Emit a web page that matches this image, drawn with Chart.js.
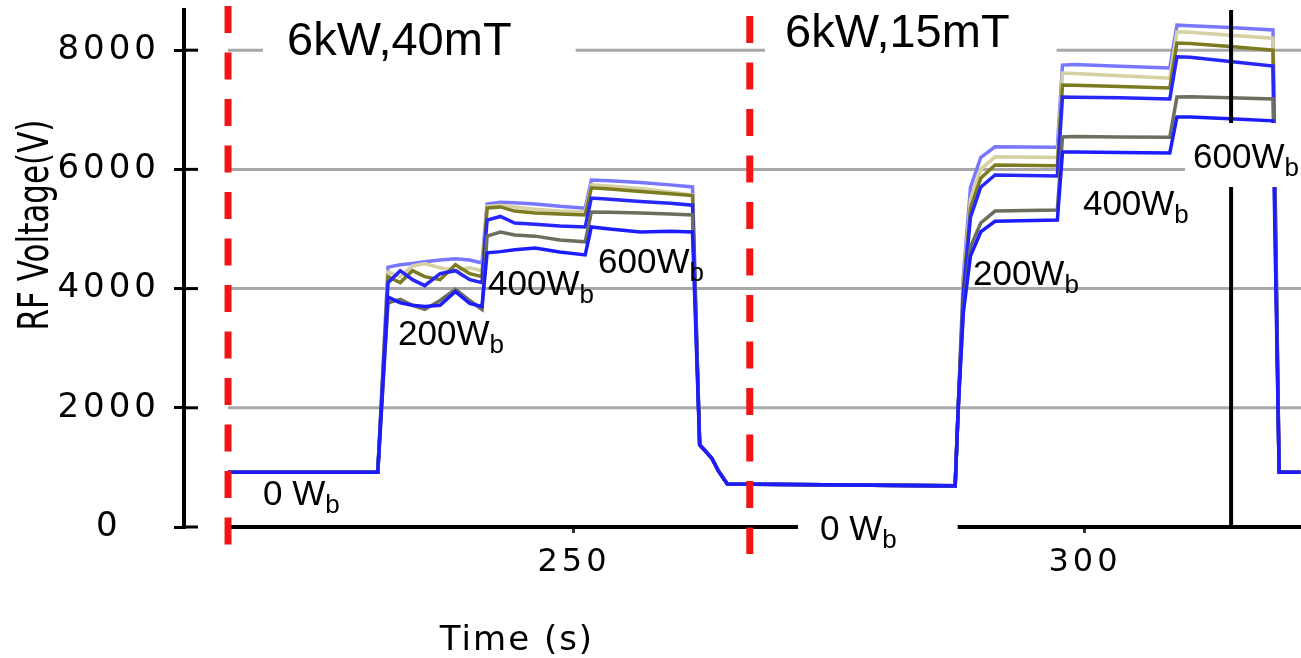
<!DOCTYPE html>
<html>
<head>
<meta charset="utf-8">
<script src="https://cdn.jsdelivr.net/npm/chart.js@4"></script>
<style>
  html, body { margin:0; padding:0; background:#fff; }
  canvas { display:block; }
</style>
</head>
<body>
<canvas id="rfChart" width="1301" height="658"></canvas>
<script>
// time points (s)
const times = [216.15, 230.8, 231.8, 233.0, 234.2, 235.4, 236.9, 238.4, 239.8, 241.0,
  241.5, 242.8, 244.2, 246.2, 248.6, 251.1,
  251.7, 253.5, 256.5, 259.4, 261.6,
  262.3, 263.5, 264.1, 265.0, 287.3,
  287.6, 288.1, 288.8, 289.8, 291.2, 297.3,
  297.8, 299.0, 303.4, 308.3,
  309.0, 310.3, 314.2, 318.4,
  319.0, 321.1];

// RF voltage (V) per trace, top to bottom
const traceTop = [920, 920, 4360, 4400, 4420, 4450, 4480, 4500, 4480, 4430,
  5420, 5450, 5440, 5420, 5380, 5350,
  5820, 5810, 5780, 5740, 5705,
  1380, 1150, 950, 720, 690,
  2000, 4200, 5700, 6200, 6380, 6370,
  7750, 7760, 7730, 7700,
  8420, 8410, 8380, 8340,
  920, 920];
const traceBeige = [920, 920, 4280, 4200, 4380, 4420, 4350, 4300, 4350, 4300,
  5380, 5400, 5370, 5330, 5300, 5290,
  5740, 5720, 5680, 5620, 5570,
  1380, 1150, 950, 720, 690,
  2000, 4100, 5500, 6000, 6210, 6200,
  7615, 7610, 7570, 7530,
  8310, 8300, 8250, 8200,
  920, 920];
const traceOlive = [920, 920, 4200, 4100, 4300, 4200, 4150, 4400, 4250, 4200,
  5350, 5370, 5300, 5270, 5250, 5235,
  5690, 5670, 5630, 5590, 5560,
  1380, 1150, 950, 720, 690,
  2000, 4000, 5350, 5850, 6075, 6060,
  7415, 7410, 7390, 7365,
  8120, 8110, 8060, 8000,
  920, 920];
const traceBlue = [920, 920, 4100, 4300, 4150, 4050, 4250, 4300, 4150, 4100,
  5150, 5210, 5100, 5080, 5050, 5035,
  5520, 5500, 5460, 5430, 5400,
  1380, 1150, 950, 720, 690,
  2000, 3900, 5200, 5700, 5905, 5890,
  7215, 7210, 7200, 7180,
  7890, 7880, 7810, 7735,
  920, 920];
const traceGray = [920, 920, 3760, 3820, 3720, 3650, 3800, 3990, 3800, 3650,
  4880, 4950, 4900, 4880, 4815, 4785,
  5285, 5280, 5270, 5250, 5235,
  1380, 1150, 950, 720, 690,
  2000, 3700, 4700, 5100, 5300, 5320,
  6545, 6550, 6545, 6540,
  7215, 7220, 7200, 7180,
  920, 920];
const traceBottom = [920, 920, 3860, 3760, 3720, 3700, 3720, 3950, 3750, 3700,
  4600, 4620, 4650, 4680, 4615, 4565,
  5035, 5000, 4950, 4960, 4950,
  1380, 1150, 950, 720, 690,
  2000, 3600, 4550, 4950, 5130, 5150,
  6290, 6290, 6285, 6275,
  6880, 6880, 6850, 6815,
  920, 920];

const yTicks = [0, 2000, 4000, 6000, 8000];
const xTicks = [250, 300];
const dividerTimes = [216.15, 267.2];
const markerTime = 314.3;

const annotations = [
  {text:'6kW,40mT', t:221.92, v:7919, size:47, box:[24,50,64,15]},
  {text:'6kW,15mT', t:270.65, v:8054, size:47, box:[20,45,47,15]},
  {text:'0 W', sub:'b', t:219.57, v:369, size:35},
  {text:'200W', sub:'b', t:232.78, v:3054, size:35},
  {text:'400W', sub:'b', t:241.59, v:3893, size:35},
  {text:'600W', sub:'b', t:252.35, v:4262, size:35},
  {text:'0 W', sub:'b', t:274.07, v:-218, size:35, box:[22,22,61,12]},
  {text:'200W', sub:'b', t:289.04, v:4060, size:35},
  {text:'400W', sub:'b', t:299.8, v:5235, size:35},
  {text:'600W', sub:'b', t:310.57, v:6023, size:35, box:[8,45,120,19]}
];

const traces = [
  {vals: traceBottom, color:'#1c1cff'},
  {vals: traceGray, color:'#6e6e5e'},
  {vals: traceBlue, color:'#2626ff'},
  {vals: traceOlive, color:'#7d7b22'},
  {vals: traceBeige, color:'#d5d1a2'},
  {vals: traceTop, color:'#7777ff'}
];

const decor = {
  id: 'decor',
  beforeUpdate(chart) {
    chart.ctx.letterSpacing = '4px';
  },
  beforeDraw(chart) {
    chart.ctx.letterSpacing = '4px';
  },
  beforeDatasetsDraw(chart) {
    const ctx = chart.ctx, xs = chart.scales.x, ys = chart.scales.y, a = chart.chartArea;
    ctx.save();
    ctx.letterSpacing = '0px';
    // grid
    ctx.strokeStyle = '#a8a8a8';
    ctx.lineWidth = 3;
    const gx = xs.getPixelForValue(dividerTimes[0]);
    yTicks.slice(1).forEach(v => {
      const y = ys.getPixelForValue(v);
      ctx.beginPath(); ctx.moveTo(gx, y); ctx.lineTo(a.right, y); ctx.stroke();
    });
    // inner half of y ticks
    ctx.strokeStyle = '#000';
    yTicks.forEach(v => {
      const y = ys.getPixelForValue(v);
      ctx.beginPath(); ctx.moveTo(a.left, y); ctx.lineTo(a.left + 14, y); ctx.stroke();
    });
    // x axis line
    ctx.lineWidth = 4;
    ctx.beginPath(); ctx.moveTo(gx + 2, a.bottom); ctx.lineTo(a.right, a.bottom); ctx.stroke();
    ctx.restore();
  },
  afterDatasetsDraw(chart) {
    const ctx = chart.ctx, xs = chart.scales.x, ys = chart.scales.y, a = chart.chartArea;
    ctx.save();
    ctx.letterSpacing = '0px';
    // red dashed separators
    ctx.strokeStyle = '#f21515';
    ctx.lineWidth = 7;
    ctx.setLineDash([27, 19.5]);
    [[dividerTimes[0], a.top - 4, a.bottom + 18], [dividerTimes[1], a.top + 6, a.bottom + 27]].forEach(d => {
      const x = xs.getPixelForValue(d[0]);
      ctx.beginPath(); ctx.moveTo(x, d[1]); ctx.lineTo(x, d[2]); ctx.stroke();
    });
    ctx.setLineDash([]);
    // black marker line
    ctx.strokeStyle = '#000';
    ctx.lineWidth = 4;
    const mx = xs.getPixelForValue(markerTime);
    ctx.beginPath(); ctx.moveTo(mx, a.top); ctx.lineTo(mx, a.bottom); ctx.stroke();

    // text labels
    annotations.forEach(lab => {
      const x = xs.getPixelForValue(lab.t), y = ys.getPixelForValue(lab.v);
      ctx.font = lab.size + 'px "Liberation Sans", Arial, sans-serif';
      const w1 = ctx.measureText(lab.text).width;
      let w2 = 0;
      if (lab.sub) {
        ctx.font = '26px "Liberation Sans", Arial, sans-serif';
        w2 = ctx.measureText(lab.sub).width;
      }
      if (lab.box) {
        ctx.fillStyle = '#fff';
        ctx.fillRect(x - lab.box[0], y - lab.box[1], w1 + w2 + lab.box[0] + lab.box[2], lab.box[1] + lab.box[3]);
      }
      ctx.fillStyle = '#000';
      ctx.textBaseline = 'alphabetic';
      ctx.textAlign = 'left';
      ctx.font = lab.size + 'px "Liberation Sans", Arial, sans-serif';
      ctx.fillText(lab.text, x, y);
      if (lab.sub) {
        ctx.font = '26px "Liberation Sans", Arial, sans-serif';
        ctx.fillText(lab.sub, x + w1, y + 8);
      }
    });

    // axis titles
    ctx.fillStyle = '#000';
    ctx.textAlign = 'center';
    ctx.textBaseline = 'alphabetic';
    ctx.font = '34px "DejaVu Sans", sans-serif';
    ctx.letterSpacing = '2px';
    ctx.fillText('Time (s)', 517, 650);
    ctx.letterSpacing = '0px';
    ctx.translate(48, 225);
    ctx.scale(1.4, 1);
    ctx.rotate(-Math.PI / 2);
    ctx.font = '31px "DejaVu Sans", sans-serif';
    ctx.fillText('RF Voltage(V)', 0, 0);
    ctx.restore();
  }
};

new Chart(document.getElementById('rfChart'), {
  type: 'line',
  data: {
    datasets: traces.map(tr => ({
      data: times.map((t, i) => ({x: t, y: tr.vals[i]})),
      borderColor: tr.color,
      borderWidth: 3.5,
      pointRadius: 0,
      tension: 0,
      fill: false
    }))
  },
  options: {
    responsive: false,
    animation: false,
    devicePixelRatio: 1,
    layout: { padding: { top: 10, right: 0, left: 0, bottom: 0 } },
    plugins: { legend: { display: false }, tooltip: { enabled: false } },
    scales: {
      x: {
        type: 'linear',
        min: 211.84,
        max: 321.14,
        afterBuildTicks: s => { s.ticks = xTicks.map(v => ({value: v})); },
        afterFit: s => { s.height = 131; s.paddingLeft = 0; s.paddingRight = 0; },
        ticks: { color: '#000', font: { family: 'DejaVu Sans', size: 32 }, padding: 10, maxRotation: 0,
                 callback: v => String(v) },
        grid: { drawOnChartArea: false, tickLength: 6, color: '#333', lineWidth: 3 },
        border: { display: false }
      },
      y: {
        min: 0,
        max: 8674,
        afterBuildTicks: s => { s.ticks = yTicks.map(v => ({value: v})); },
        afterFit: s => { s.width = 184; s.paddingTop = 0; s.paddingBottom = 0; },
        ticks: { color: '#000', font: { family: 'DejaVu Sans', size: 34 }, padding: 14,
                 crossAlign: 'center', callback: v => String(v) },
        grid: { drawOnChartArea: false, tickLength: 10, color: '#000', lineWidth: 3 },
        border: { display: true, color: '#000', width: 4 }
      }
    }
  },
  plugins: [decor]
});
</script>
</body>
</html>
